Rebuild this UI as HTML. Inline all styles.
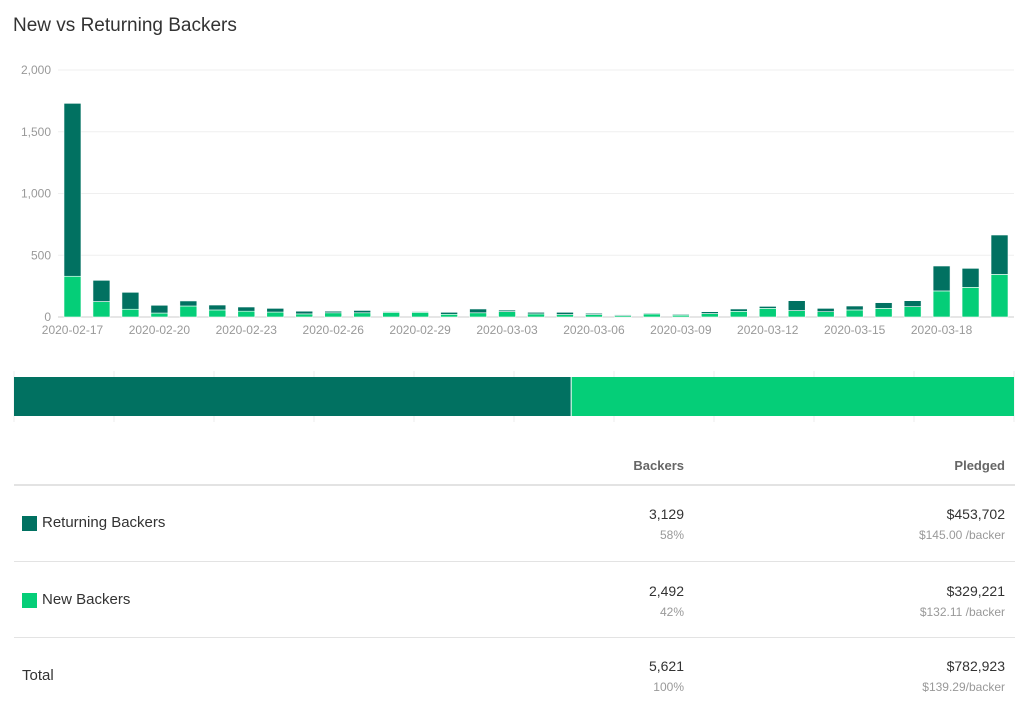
<!DOCTYPE html>
<html><head><meta charset="utf-8"><style>
body{margin:0;width:1024px;height:708px;background:#fff;font-family:"Liberation Sans",sans-serif;overflow:hidden;position:relative}
.t{position:absolute;white-space:nowrap}
</style></head><body>
<div class="t" style="left:13px;top:15px;font-size:19px;color:#333">New vs Returning Backers</div>
<svg id="chart" width="1024" height="440" style="position:absolute;left:0;top:0"></svg>
<div class="t" style="right:340px;top:458px;font-size:13px;color:#666;font-weight:bold">Backers</div>
<div class="t" style="right:19px;top:458px;font-size:13px;color:#666;font-weight:bold">Pledged</div>
<div style="position:absolute;left:14px;width:1001px;top:484px;height:2px;background:#e3e3e3"></div>
<div style="position:absolute;left:22px;top:516px;width:15px;height:15px;background:#017161"></div>
<div class="t" style="left:42px;top:514px;font-size:15px;color:#333">Returning Backers</div>
<div class="t" style="right:340px;top:506px;font-size:14px;color:#333">3,129</div>
<div class="t" style="right:340px;top:528px;font-size:12px;color:#999">58%</div>
<div class="t" style="right:19px;top:506px;font-size:14px;color:#333">$453,702</div>
<div class="t" style="right:19px;top:528px;font-size:12px;color:#999">$145.00 /backer</div>
<div style="position:absolute;left:14px;width:1001px;top:561px;height:1px;background:#e3e3e3"></div>
<div style="position:absolute;left:22px;top:593px;width:15px;height:15px;background:#05ce78"></div>
<div class="t" style="left:42px;top:591px;font-size:15px;color:#333">New Backers</div>
<div class="t" style="right:340px;top:583px;font-size:14px;color:#333">2,492</div>
<div class="t" style="right:340px;top:605px;font-size:12px;color:#999">42%</div>
<div class="t" style="right:19px;top:583px;font-size:14px;color:#333">$329,221</div>
<div class="t" style="right:19px;top:605px;font-size:12px;color:#999">$132.11 /backer</div>
<div style="position:absolute;left:14px;width:1001px;top:637px;height:1px;background:#e3e3e3"></div>
<div class="t" style="left:22px;top:667px;font-size:15px;color:#333">Total</div>
<div class="t" style="right:340px;top:658px;font-size:14px;color:#333">5,621</div>
<div class="t" style="right:340px;top:680px;font-size:12px;color:#999">100%</div>
<div class="t" style="right:19px;top:658px;font-size:14px;color:#333">$782,923</div>
<div class="t" style="right:19px;top:680px;font-size:12px;color:#999">$139.29/backer</div>
<script>
const dates=["2020-02-17","2020-02-18","2020-02-19","2020-02-20","2020-02-21","2020-02-22","2020-02-23","2020-02-24","2020-02-25","2020-02-26","2020-02-27","2020-02-28","2020-02-29","2020-03-01","2020-03-02","2020-03-03","2020-03-04","2020-03-05","2020-03-06","2020-03-07","2020-03-08","2020-03-09","2020-03-10","2020-03-11","2020-03-12","2020-03-13","2020-03-14","2020-03-15","2020-03-16","2020-03-17","2020-03-18","2020-03-19","2020-03-20"];
const newBackers=[330,125,63,32,89,57,47,40,25,34,34,38,38,22,34,44,25,20,20,12,25,15,28,46,70,52,43,57,70,84,211,240,345];
const returningBackers=[1400,172,137,63,41,40,34,30,22,13,19,6,6,16,31,12,13,18,10,7,7,7,15,19,16,80,27,32,46,48,202,154,319];
const yTicks=[0,500,1000,1500,2000];
const yTickLabels=["0","500","1,000","1,500","2,000"];
const shareReturning=3129, shareNew=2492;
const svg=document.getElementById('chart');
const NS='http://www.w3.org/2000/svg';
const y0=317,y1=70,x0=58,x1=1014;
const yS=v=>y0-(v/2000)*(y0-y1);
const step=(x1-x0)/dates.length;
const xS=i=>x0+step*(i+0.5);
function mk(tag,attrs){const e=document.createElementNS(NS,tag);for(const k in attrs)e.setAttribute(k,attrs[k]);svg.appendChild(e);return e;}
yTicks.forEach((v,i)=>{
 const l=mk('line',{x1:x0,x2:x1,y1:yS(v),y2:yS(v),stroke:i==0?'#ccc':'#efefef'});
 
 
 const t=mk('text',{x:51,y:yS(v)+4,'text-anchor':'end','font-size':12,fill:'#999','font-family':'Liberation Sans'});
 t.textContent=yTickLabels[i];
 
 
});
dates.forEach((d,i)=>{
 const cx=xS(i),w=17;
 const n=mk('rect',{x:cx-w/2,y:yS(newBackers[i]),width:w,height:y0-yS(newBackers[i]),fill:'#05ce78',stroke:'#fff','stroke-width':0.6});
 
 
 const r=mk('rect',{x:cx-w/2,y:yS(newBackers[i]+returningBackers[i]),width:w,height:yS(newBackers[i])-yS(newBackers[i]+returningBackers[i]),fill:'#017161',stroke:'#fff','stroke-width':0.6});
 
 
 if(i%3==0){
  const t=mk('text',{x:cx,y:334,'text-anchor':'middle','font-size':12,fill:'#999','font-family':'Liberation Sans'});
  t.textContent=d;
  
  
 }
});
for(let k=0;k<=10;k++){
 const l=mk('line',{x1:14+k*100,x2:14+k*100,y1:371,y2:422,stroke:'#eee'});
 
 
}
const tot=shareReturning+shareNew, bx=14, bw=1000;
const sr=mk('rect',{x:bx,y:377,width:bw*shareReturning/tot,height:39,fill:'#017161'});


const sn=mk('rect',{x:bx+bw*shareReturning/tot+1,y:377,width:bw*shareNew/tot-1,height:39,fill:'#05ce78'});


</script>
</body></html>
